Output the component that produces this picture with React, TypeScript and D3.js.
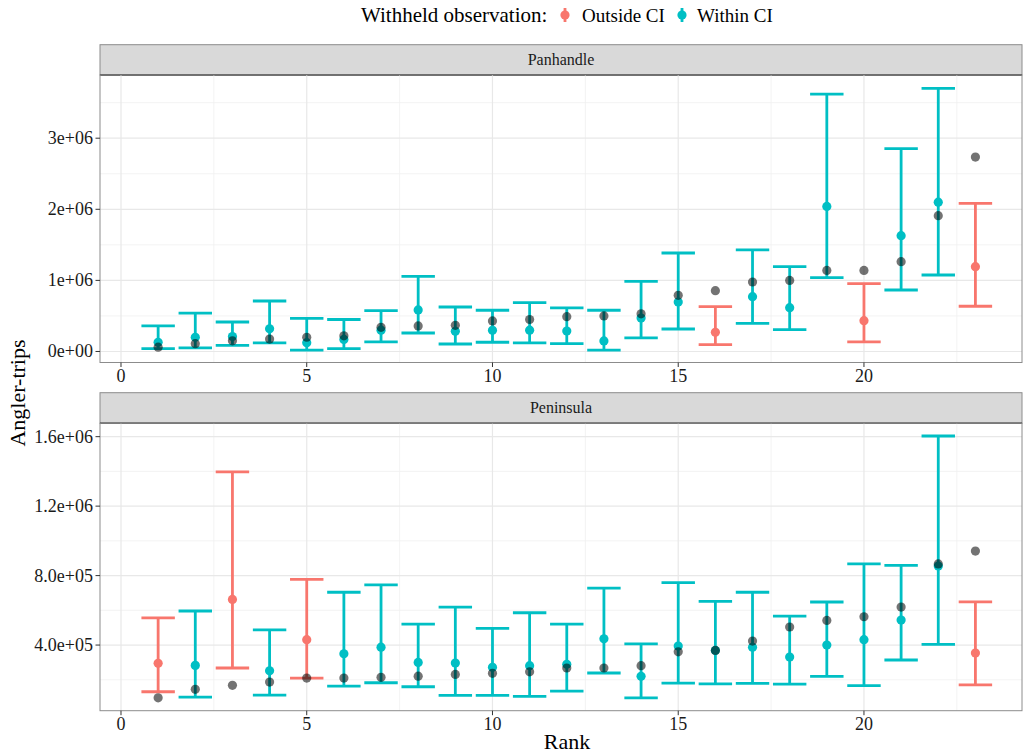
import React from 'react';
import * as d3 from 'd3';

// ranks shared by both facets
const ranks = [1, 2, 3, 4, 5, 6, 7, 8, 9, 10, 11, 12, 13, 14, 15, 16, 17, 18, 19, 20, 21, 22, 23];

// Panhandle (angler-trips)
const panUpper = [359e3, 540e3, 415e3, 710e3, 467e3, 450e3, 574e3, 1057e3, 626e3, 580e3, 687e3, 612e3, 580e3, 987e3, 1385e3, 630e3, 1428e3, 1193e3, 3620e3, 954e3, 2853e3, 3700e3, 2084e3];
const panLower = [40e3, 50e3, 87e3, 120e3, 20e3, 40e3, 134e3, 260e3, 105e3, 130e3, 120e3, 110e3, 20e3, 190e3, 316e3, 96e3, 396e3, 307e3, 1038e3, 134e3, 865e3, 1076e3, 636e3];
const panEst = [130e3, 200e3, 210e3, 320e3, 124e3, 170e3, 300e3, 584e3, 284e3, 297e3, 300e3, 288e3, 148e3, 470e3, 696e3, 270e3, 771e3, 616e3, 2040e3, 433e3, 1629e3, 2100e3, 1193e3];
const panObs = [60e3, 110e3, 150e3, 175e3, 200e3, 220e3, 340e3, 359e3, 368e3, 430e3, 450e3, 490e3, 500e3, 530e3, 790e3, 855e3, 977e3, 1000e3, 1140e3, 1140e3, 1263e3, 1910e3, 2735e3];
const panStatus = ['W', 'W', 'W', 'W', 'W', 'W', 'W', 'W', 'W', 'W', 'W', 'W', 'W', 'W', 'W', 'O', 'W', 'W', 'W', 'O', 'W', 'W', 'O'];

// Peninsula (angler-trips)
const penUpper = [557e3, 596e3, 1397e3, 488e3, 778e3, 704e3, 747e3, 521e3, 619e3, 496e3, 586e3, 521e3, 728e3, 407e3, 759e3, 652e3, 704e3, 567e3, 648e3, 867e3, 859e3, 1604e3, 649e3];
const penLower = [131e3, 100e3, 268e3, 112e3, 210e3, 164e3, 183e3, 160e3, 110e3, 110e3, 104e3, 135e3, 239e3, 96e3, 181e3, 177e3, 179e3, 175e3, 220e3, 166e3, 314e3, 404e3, 171e3];
const penEst = [295e3, 283e3, 663e3, 252e3, 431e3, 350e3, 388e3, 300e3, 296e3, 272e3, 281e3, 289e3, 436e3, 220e3, 394e3, 369e3, 387e3, 331e3, 400e3, 431e3, 544e3, 855e3, 354e3];
const penObs = [96e3, 145e3, 168e3, 187e3, 210e3, 210e3, 214e3, 221e3, 231e3, 237e3, 246e3, 268e3, 268e3, 281e3, 361e3, 369e3, 423e3, 504e3, 542e3, 563e3, 619e3, 867e3, 941e3];
const penStatus = ['O', 'W', 'O', 'W', 'O', 'W', 'W', 'W', 'W', 'W', 'W', 'W', 'W', 'W', 'W', 'W', 'W', 'W', 'W', 'W', 'W', 'W', 'O'];

const xTicks = [0, 5, 10, 15, 20];
const xMinor = [2.5, 7.5, 12.5, 17.5, 22.5];
const panTicks = [0, 1e6, 2e6, 3e6];
const panTickLabels = ['0e+00', '1e+06', '2e+06', '3e+06'];
const panMinor = [0.5e6, 1.5e6, 2.5e6, 3.5e6];
const penTicks = [4e5, 8e5, 1.2e6, 1.6e6];
const penTickLabels = ['4.0e+05', '8.0e+05', '1.2e+06', '1.6e+06'];
const penMinor = [2e5, 6e5, 1.0e6, 1.4e6];

const statusColor: Record<string, string> = { O: '#F8766D', W: '#00BFC4' };
const FONT = '"Liberation Serif", "Times New Roman", serif';

const left = 100;
const right = 1022;
const x = d3.scaleLinear().domain([-0.565, 24.254]).range([left, right]);

type PanelProps = {
  label: string;
  stripTop: number;
  top: number;
  bottom: number;
  domain: [number, number];
  ticks: number[];
  tickLabels: string[];
  minor: number[];
  upper: number[];
  lower: number[];
  est: number[];
  obs: number[];
  status: string[];
};

const Panel = (p: PanelProps) => {
  const y = d3.scaleLinear().domain(p.domain).range([p.bottom, p.top]);
  const half = (x(0.45) - x(0));
  return (
    <g>
      {/* strip */}
      <rect x={left} y={p.stripTop} width={right - left} height={p.top - p.stripTop} fill="#d9d9d9" stroke="#8c8c8c" strokeWidth={1} />
      <line x1={left} x2={right} y1={p.top} y2={p.top} stroke="#333" strokeWidth={1.4} />
      <text x={(left + right) / 2} y={(p.stripTop + p.top) / 2 + 5} textAnchor="middle" fontFamily={FONT} fontSize={16} fill="#1a1a1a">{p.label}</text>

      {/* grid */}
      {p.minor.map((v) => (
        <line key={'ym' + v} x1={left} x2={right} y1={y(v)} y2={y(v)} stroke="#f0f0f0" strokeWidth={0.8} />
      ))}
      {xMinor.map((v) => (
        <line key={'xm' + v} x1={x(v)} x2={x(v)} y1={p.top} y2={p.bottom} stroke="#f0f0f0" strokeWidth={0.8} />
      ))}
      {p.ticks.map((v) => (
        <line key={'yg' + v} x1={left} x2={right} y1={y(v)} y2={y(v)} stroke="#e8e8e8" strokeWidth={1.2} />
      ))}
      {xTicks.map((v) => (
        <line key={'xg' + v} x1={x(v)} x2={x(v)} y1={p.top} y2={p.bottom} stroke="#e8e8e8" strokeWidth={1.2} />
      ))}

      {/* error bars */}
      {ranks.map((r, i) => {
        const c = statusColor[p.status[i]];
        const cx = x(r);
        return (
          <g key={'eb' + r} stroke={c} strokeWidth={2.8} fill="none">
            <line x1={cx} x2={cx} y1={y(p.lower[i])} y2={y(p.upper[i])} />
            <line x1={cx - half} x2={cx + half} y1={y(p.upper[i])} y2={y(p.upper[i])} />
            <line x1={cx - half} x2={cx + half} y1={y(p.lower[i])} y2={y(p.lower[i])} />
          </g>
        );
      })}
      {ranks.map((r, i) => (
        <circle key={'pt' + r} cx={x(r)} cy={y(p.est[i])} r={4.6} fill={statusColor[p.status[i]]} />
      ))}
      {ranks.map((r, i) => (
        <circle key={'ob' + r} cx={x(r)} cy={y(p.obs[i])} r={4.6} fill="#000" fillOpacity={0.55} />
      ))}

      {/* border */}
      <rect x={left} y={p.top} width={right - left} height={p.bottom - p.top} fill="none" stroke="#8c8c8c" strokeWidth={1} />

      {/* y axis */}
      {p.ticks.map((v, i) => (
        <g key={'yt' + v}>
          <line x1={left - 4.5} x2={left} y1={y(v)} y2={y(v)} stroke="#333" strokeWidth={1} />
          <text x={left - 7} y={y(v) + 6} textAnchor="end" fontFamily={FONT} fontSize={18} fill="#1a1a1a">{p.tickLabels[i]}</text>
        </g>
      ))}
      {/* x axis */}
      {xTicks.map((v) => (
        <g key={'xt' + v}>
          <line x1={x(v)} x2={x(v)} y1={p.bottom} y2={p.bottom + 4.5} stroke="#333" strokeWidth={1} />
          <text x={x(v)} y={p.bottom + 19} textAnchor="middle" fontFamily={FONT} fontSize={18} fill="#1a1a1a">{v}</text>
        </g>
      ))}
    </g>
  );
};

const LegendKey = ({ cx, color }: { cx: number; color: string }) => (
  <g>
    <line x1={cx} x2={cx} y1={8} y2={22} stroke={color} strokeWidth={2.8} />
    <circle cx={cx} cy={15} r={4.6} fill={color} />
  </g>
);

export default function App() {
  return (
    <svg width={1023} height={756} style={{ position: 'absolute', left: 0, top: 0, background: '#fff' }}>
      <rect width={1023} height={756} fill="#fff" />
      <text x={361} y={22} fontFamily={FONT} fontSize={21} fill="#000">Withheld observation:</text>
      <LegendKey cx={565} color={statusColor.O} />
      <text x={582} y={22} fontFamily={FONT} fontSize={19} fill="#000">Outside CI</text>
      <LegendKey cx={682} color={statusColor.W} />
      <text x={697} y={22} fontFamily={FONT} fontSize={19} fill="#000">Within CI</text>

      <Panel label="Panhandle" stripTop={44.7} top={75} bottom={362.5} domain={[-0.155e6, 3.889e6]}
        ticks={panTicks} tickLabels={panTickLabels} minor={panMinor}
        upper={panUpper} lower={panLower} est={panEst} obs={panObs} status={panStatus} />
      <Panel label="Peninsula" stripTop={392.7} top={423.3} bottom={710.7} domain={[22000, 1677000]}
        ticks={penTicks} tickLabels={penTickLabels} minor={penMinor}
        upper={penUpper} lower={penLower} est={penEst} obs={penObs} status={penStatus} />

      <text x={567} y={749} textAnchor="middle" fontFamily={FONT} fontSize={22} fill="#000">Rank</text>
      <text transform="translate(25,393) rotate(-90)" textAnchor="middle" fontFamily={FONT} fontSize={22} fill="#000">Angler-trips</text>
    </svg>
  );
}
